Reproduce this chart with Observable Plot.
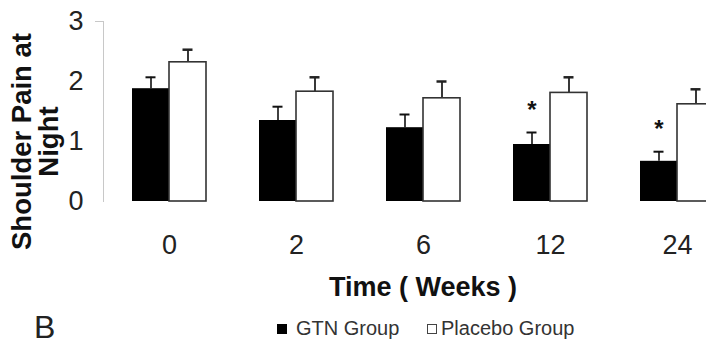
<!DOCTYPE html>
<html><head><meta charset="utf-8">
<script src="https://cdn.jsdelivr.net/npm/d3@7"></script>
<script src="https://cdn.jsdelivr.net/npm/@observablehq/plot@0.6"></script>
<style>
body{margin:0;background:#fff;font-family:"Liberation Sans",Arial,sans-serif;}
#chart{width:706px;height:354px;position:relative;overflow:hidden;background:#fff}
#below{position:relative;height:49px;width:706px;color:#222}
#below .panel{position:absolute;left:34px;top:6px;font-size:32px;line-height:32px}
#below .item{position:absolute;top:12px;font-size:20px;line-height:22px;color:#333;white-space:nowrap}
#below .sw{display:inline-block;width:10px;height:10px;margin-right:9px;vertical-align:1px;box-sizing:border-box}
</style></head><body><div id="chart"></div><script>
const weeks = ["0", "2", "6", "12", "24"];
const gtnMean = [1.88, 1.35, 1.23, 0.95, 0.67];
const gtnErr = [0.19, 0.23, 0.22, 0.20, 0.16];
const placeboMean = [2.32, 1.83, 1.72, 1.81, 1.62];
const placeboErr = [0.21, 0.24, 0.28, 0.26, 0.25];
const significant = [false, false, false, true, true];
const yTicks = [0, 1, 2, 3];
const seriesNames = ["GTN Group", "Placebo Group"];
const xTitle = "Time ( Weeks )";
const yTitleLines = ["Shoulder Pain at", "Night"];
const panelLabel = "B";

const gtn = weeks.map((w, i) => ({week: w, mean: gtnMean[i], upper: gtnMean[i] + gtnErr[i], sig: significant[i]}));
const placebo = weeks.map((w, i) => ({week: w, mean: placeboMean[i], upper: placeboMean[i] + placeboErr[i]}));

const half = 37;      // half of the band width (pixels)
const capIn = 13.5;   // inset for error caps

const plot = Plot.plot({
  width: 706, height: 305,
  marginLeft: 103, marginRight: -36, marginTop: 21, marginBottom: 104,
  style: {fontFamily: "Liberation Sans, Arial, sans-serif", background: "white", overflow: "hidden"},
  x: {domain: weeks, paddingInner: 0.42, paddingOuter: 0.21, label: null},
  y: {domain: [0, 3], label: null},
  marks: [
    Plot.frame({anchor: "left", stroke: "#c8c8c8"}),
    Plot.axisY({ticks: [3], tickSize: 8, text: null, stroke: "#c8c8c8", label: null}),
    Plot.axisY({ticks: yTicks, tickFormat: d => String(d), tickSize: 0, tickPadding: 20, fontSize: 27, fill: "#222", label: null}),
    Plot.axisX({tickSize: 0, tickPadding: 33, fontSize: 27, fill: "#222", label: null}),
    // error bars
    Plot.ruleX(gtn, {x: "week", y1: "mean", y2: "upper", dx: -half / 2, stroke: "#111", strokeWidth: 1.6}),
    Plot.tickY(gtn, {x: "week", y: "upper", insetLeft: capIn, insetRight: half + capIn, stroke: "#111", strokeWidth: 2}),
    Plot.ruleX(placebo, {x: "week", y1: "mean", y2: "upper", dx: half / 2, stroke: "#222", strokeWidth: 1.8}),
    Plot.tickY(placebo, {x: "week", y: "upper", insetLeft: half + capIn, insetRight: capIn, stroke: "#222", strokeWidth: 2.5}),
    // bars
    Plot.barY(gtn, {x: "week", y: "mean", insetRight: half, fill: "#000"}),
    Plot.barY(placebo, {x: "week", y: "mean", insetLeft: half, fill: "#fff", stroke: "#333", strokeWidth: 1.6}),
    // significance
    Plot.text(gtn.filter(d => d.sig), {x: "week", y: "upper", dx: -half / 2, dy: -22, text: () => "*", fontSize: 24, fontWeight: "bold", fill: "#111"}),
    // titles
    Plot.text([xTitle], {frameAnchor: "bottom", dy: 94, text: d => d, fontSize: 27, fontWeight: "bold", fill: "#111"}),
    Plot.text([yTitleLines[0]], {frameAnchor: "left", rotate: -90, dx: -81, dy: 30, text: d => d, textAnchor: "middle", lineAnchor: "middle", fontSize: 27.5, fontWeight: "bold", fill: "#111"}),
    Plot.text([yTitleLines[1]], {frameAnchor: "left", rotate: -90, dx: -54, dy: 30, text: d => d, textAnchor: "middle", lineAnchor: "middle", fontSize: 27.5, fontWeight: "bold", fill: "#111"})
  ]
});
const chart = document.getElementById("chart");
chart.appendChild(plot);
const below = document.createElement("div");
below.id = "below";
below.innerHTML = `<div class="panel">${panelLabel}</div>
<div class="item" style="left:277px"><span class="sw" style="background:#000"></span>${seriesNames[0]}</div>
<div class="item" style="left:427px"><span class="sw" style="background:#fff;border:1px solid #444;margin-right:4px"></span>${seriesNames[1]}</div>`;
chart.appendChild(below);
</script></body></html>
